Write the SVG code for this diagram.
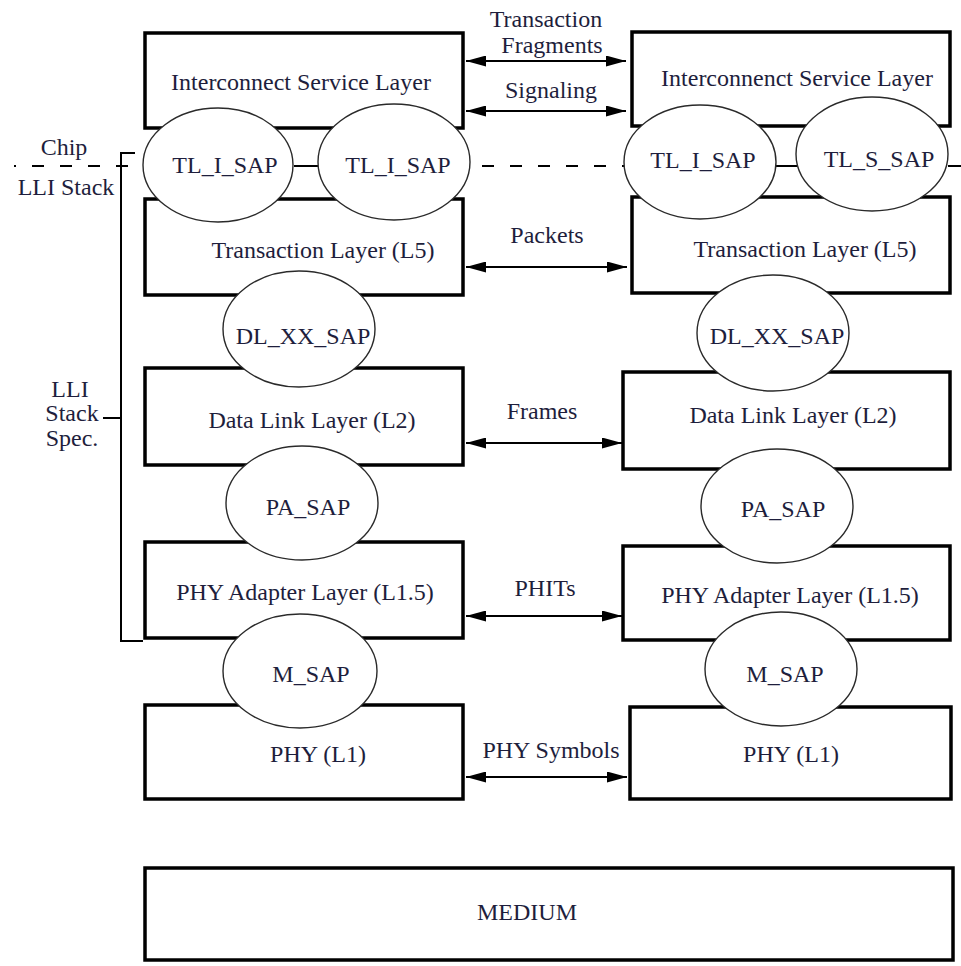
<svg xmlns="http://www.w3.org/2000/svg" width="961" height="966" viewBox="0 0 961 966">
  <style>
    .layer { fill: #ffffff; stroke: #000000; stroke-width: 3.5; }
    .sap { fill: #ffffff; stroke: #2a2a2a; stroke-width: 1.4; }
    .lbl { font-family: "Liberation Serif", "Times New Roman", serif; font-size: 24px; fill: #1e1e3c; text-anchor: middle; }
    .link { stroke: #000000; stroke-width: 2; fill: none; marker-start: url(#head); marker-end: url(#head); }
    .rule { stroke: #000000; stroke-width: 2; fill: none; }
    .dash { stroke: #000000; stroke-width: 2; fill: none; stroke-dasharray: 12 16; }
  </style>
  <defs>
    <marker id="head" viewBox="0 0 20 11" refX="20" refY="5.5" markerWidth="20" markerHeight="11" markerUnits="userSpaceOnUse" orient="auto-start-reverse">
      <path d="M0,0 L20,5.5 L0,11 z" fill="#000000"/>
    </marker>
  </defs>

  <!-- chip boundary and stack bracket -->
  <g id="boundary">
    <path class="dash" d="M14,166 H143" stroke-dashoffset="10"/>
    <path class="rule" d="M294,166 H318"/>
    <path class="dash" d="M470,166 H625" stroke-dashoffset="16"/>
    <path class="rule" d="M775,166 H797"/>
    <path class="rule" d="M948,166 H961"/>
    <path class="rule" d="M135,153 H121 V641 H143"/>
    <path class="rule" d="M103,418 H121"/>
    <text class="lbl" x="64" y="155">Chip</text>
    <text class="lbl" x="66" y="195">LLI Stack</text>
    <text class="lbl" x="70" y="397">LLI</text>
    <text class="lbl" x="72" y="421">Stack</text>
    <text class="lbl" x="72" y="446">Spec.</text>
  </g>

  <!-- left stack layers -->
  <g id="isl-left"><rect class="layer" x="145" y="33" width="318" height="95"/><text class="lbl" x="301" y="90">Interconnect Service Layer</text></g>
  <g id="tl-left"><rect class="layer" x="145" y="199" width="318" height="96"/><text class="lbl" x="323" y="258">Transaction Layer (L5)</text></g>
  <g id="dll-left"><rect class="layer" x="145" y="368" width="318" height="97"/><text class="lbl" x="312" y="428">Data Link Layer (L2)</text></g>
  <g id="pal-left"><rect class="layer" x="145" y="542" width="318" height="96"/><text class="lbl" x="305" y="600">PHY Adapter Layer (L1.5)</text></g>
  <g id="phy-left"><rect class="layer" x="145" y="705" width="318" height="94"/><text class="lbl" x="318" y="762">PHY (L1)</text></g>

  <!-- right stack layers -->
  <g id="isl-right"><rect class="layer" x="632" y="32" width="318" height="94"/><text class="lbl" x="797" y="86">Interconnenct Service Layer</text></g>
  <g id="tl-right"><rect class="layer" x="632" y="197" width="318" height="96"/><text class="lbl" x="805" y="257">Transaction Layer (L5)</text></g>
  <g id="dll-right"><rect class="layer" x="623" y="372" width="327" height="97"/><text class="lbl" x="793" y="423">Data Link Layer (L2)</text></g>
  <g id="pal-right"><rect class="layer" x="623" y="546" width="327" height="94"/><text class="lbl" x="790" y="603">PHY Adapter Layer (L1.5)</text></g>
  <g id="phy-right"><rect class="layer" x="630" y="707" width="321" height="92"/><text class="lbl" x="791" y="762">PHY (L1)</text></g>

  <!-- shared medium -->
  <g id="medium"><rect class="layer" x="145" y="868" width="808" height="92"/><text class="lbl" x="527" y="920">MEDIUM</text></g>

  <!-- service access points, left -->
  <g id="tl-i-sap-left-a"><ellipse class="sap" cx="218" cy="165" rx="75" ry="57"/><text class="lbl" x="225" y="173">TL_I_SAP</text></g>
  <g id="tl-i-sap-left-b"><ellipse class="sap" cx="394" cy="162" rx="76" ry="58"/><text class="lbl" x="398" y="173">TL_I_SAP</text></g>
  <g id="dl-xx-sap-left"><ellipse class="sap" cx="299" cy="329" rx="76" ry="58"/><text class="lbl" x="303" y="344">DL_XX_SAP</text></g>
  <g id="pa-sap-left"><ellipse class="sap" cx="302" cy="503" rx="76" ry="57"/><text class="lbl" x="308" y="515">PA_SAP</text></g>
  <g id="m-sap-left"><ellipse class="sap" cx="300" cy="671" rx="77" ry="57"/><text class="lbl" x="311" y="682">M_SAP</text></g>

  <!-- service access points, right -->
  <g id="tl-i-sap-right"><ellipse class="sap" cx="700" cy="162" rx="76" ry="57"/><text class="lbl" x="703" y="168">TL_I_SAP</text></g>
  <g id="tl-s-sap-right"><ellipse class="sap" cx="872" cy="154" rx="76" ry="57"/><text class="lbl" x="879" y="167">TL_S_SAP</text></g>
  <g id="dl-xx-sap-right"><ellipse class="sap" cx="773" cy="333" rx="76" ry="58"/><text class="lbl" x="777" y="344">DL_XX_SAP</text></g>
  <g id="pa-sap-right"><ellipse class="sap" cx="777" cy="506" rx="76" ry="57"/><text class="lbl" x="783" y="517">PA_SAP</text></g>
  <g id="m-sap-right"><ellipse class="sap" cx="781" cy="669" rx="76" ry="57"/><text class="lbl" x="785" y="682">M_SAP</text></g>

  <!-- peer-to-peer exchanges -->
  <g id="connectors">
    <line class="link" x1="466" y1="61" x2="626" y2="61"/>
    <line class="link" x1="466" y1="111" x2="626" y2="111"/>
    <line class="link" x1="466" y1="267" x2="627" y2="267"/>
    <line class="link" x1="466" y1="443" x2="622" y2="443"/>
    <line class="link" x1="466" y1="616" x2="622" y2="616"/>
    <line class="link" x1="466" y1="777" x2="627" y2="777"/>
    <text class="lbl" x="546" y="27">Transaction</text>
    <text class="lbl" x="552" y="53">Fragments</text>
    <text class="lbl" x="551" y="98">Signaling</text>
    <text class="lbl" x="547" y="243">Packets</text>
    <text class="lbl" x="542" y="419">Frames</text>
    <text class="lbl" x="545" y="596">PHITs</text>
    <text class="lbl" x="551" y="758">PHY Symbols</text>
  </g>
</svg>
